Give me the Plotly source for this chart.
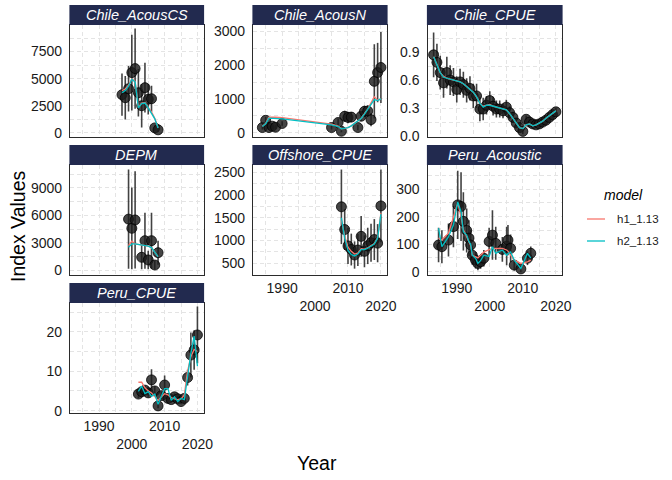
import plotly.graph_objects as go

# ---------------- data ----------------
cacs_year = [1997, 1998, 1999, 2000, 2001, 2002, 2003, 2004, 2005, 2006, 2007, 2008]
cacs_obs = [3520, 3240, 4070, 5560, 5930, 3700, 2500, 4170, 3100, 3150, 460, 280]
cacs_err = [1950, 2000, 2100, 3500, 3700, 2200, 2000, 2300, 1400, 1200, 250, 200]
cacs_h1 = [3900, 4050, 4400, 5000, 4750, 2350, 2750, 2800, 2350, 1950, 1350, 480]
cacs_h2 = [3700, 3900, 4300, 4950, 4700, 2300, 2700, 2750, 2300, 1850, 1300, 450]

can_year = [1984, 1985, 1986, 1987, 1988, 1990, 2005, 2007, 2008, 2009, 2010, 2011,
            2013, 2014, 2015, 2016, 2017, 2018, 2019, 2020]
can_obs = [150, 365, 150, 190, 160, 270, 150, 300, 40, 485, 450, 460,
           150, 485, 630, 640, 385, 1520, 1780, 1930]
can_err = [60, 100, 60, 70, 60, 70, 60, 120, 30, 160, 170, 150,
           80, 130, 170, 170, 200, 1100, 880, 1050]
can_h1 = [190, 270, 455, 460, 455, 445, 250, 190, 120, 125, 150, 200,
          330, 420, 560, 700, 880, 1060, 960, 1000]
can_h2 = [180, 260, 430, 430, 420, 410, 230, 180, 110, 120, 150, 200,
          330, 420, 550, 690, 850, 980, 950, 1000]

cc_year = [1983, 1984, 1985, 1986, 1987, 1988, 1989, 1990, 1991, 1992, 1993, 1994, 1995,
           1996, 1997, 1998, 1999, 2000, 2001, 2002, 2003, 2004, 2005, 2006, 2007, 2008,
           2009, 2010, 2011, 2012, 2013, 2014, 2015, 2016, 2017, 2018, 2019, 2020]
cc_obs = [0.87, 0.79, 0.68, 0.57, 0.68, 0.60, 0.58, 0.50, 0.58, 0.55, 0.49, 0.51, 0.43,
          0.43, 0.29, 0.29, 0.33, 0.38, 0.32, 0.29, 0.29, 0.27, 0.31, 0.25, 0.20, 0.14,
          0.09, 0.05, 0.18, 0.15, 0.13, 0.12, 0.13, 0.15, 0.17, 0.20, 0.23, 0.26]
cc_err = [0.24, 0.20, 0.18, 0.16, 0.17, 0.16, 0.15, 0.14, 0.14, 0.14, 0.13, 0.13, 0.13,
          0.13, 0.13, 0.12, 0.10, 0.10, 0.10, 0.09, 0.09, 0.08, 0.08, 0.07, 0.06, 0.05,
          0.04, 0.03, 0.04, 0.03, 0.03, 0.03, 0.03, 0.04, 0.04, 0.04, 0.04, 0.04]
cc_h1 = [0.85, 0.77, 0.68, 0.64, 0.62, 0.61, 0.60, 0.59, 0.58, 0.56, 0.53, 0.50, 0.47,
         0.42, 0.35, 0.32, 0.33, 0.34, 0.32, 0.31, 0.30, 0.29, 0.28, 0.24, 0.19, 0.13,
         0.09, 0.08, 0.12, 0.13, 0.11, 0.12, 0.14, 0.16, 0.19, 0.22, 0.25, 0.27]
cc_h2 = [0.85, 0.77, 0.68, 0.63, 0.62, 0.61, 0.60, 0.59, 0.58, 0.56, 0.53, 0.50, 0.47,
         0.42, 0.35, 0.31, 0.33, 0.33, 0.32, 0.31, 0.30, 0.29, 0.28, 0.24, 0.19, 0.13,
         0.09, 0.08, 0.12, 0.13, 0.11, 0.12, 0.14, 0.16, 0.19, 0.22, 0.25, 0.27]

dp_year = [1999, 2000, 2001, 2003, 2004, 2005, 2006, 2007, 2008]
dp_obs = [5600, 4600, 5510, 1440, 3250, 1150, 3250, 600, 1940]
dp_err = [5400, 4450, 5300, 1300, 3050, 1000, 3050, 450, 1300]
dp_h1 = [2700, 3200, 2900, 2800, 2750, 2650, 2500, 2050, 1500]
dp_h2 = [2530, 2900, 2900, 2800, 2750, 2650, 2500, 2050, 1500]

of_year = [2008, 2009, 2010, 2011, 2012, 2013, 2014, 2015, 2016, 2017, 2018, 2019, 2020]
of_obs = [1740, 1240, 880, 800, 680, 790, 1090, 760, 880, 950, 1020, 940, 1760]
of_err = [820, 450, 400, 350, 300, 350, 450, 350, 400, 420, 450, 420, 800]
of_h1 = [1450, 1100, 850, 760, 700, 720, 820, 810, 840, 880, 930, 1060, 1600]
of_h2 = [1500, 1050, 780, 690, 660, 700, 800, 800, 830, 870, 920, 1050, 1580]

pa_year = [1984.5, 1985.5, 1987.5, 1989.0, 1990.3, 1991.3, 1992.0, 1993.0, 1993.7, 1994.2,
           1994.7, 1995.7, 1996.4, 1997.2, 1998.2, 1999.8, 2000.8, 2001.8, 2003.8, 2005.1,
           2005.5, 2006.3, 2007.4, 2009.4, 2011.4, 2012.4]
pa_obs = [97, 91, 115, 164, 243, 237, 183, 150, 122, 97, 60, 42, 30, 36, 49, 110, 133,
          103, 81, 93, 115, 85, 24, 10, 49, 67]
pa_err = [63, 60, 60, 75, 124, 125, 106, 80, 65, 55, 35, 30, 25, 25, 30, 50, 90, 60, 45,
          70, 55, 50, 20, 12, 25, 25]
pa_h1 = [122, 115, 140, 200, 250, 200, 152, 127, 110, 95, 60, 55, 50, 60, 71, 80, 85, 85,
         85, 79, 75, 60, 42, 30, 36, 42]
pa_h2 = [158, 91, 127, 170, 254, 218, 145, 133, 109, 100, 60, 49, 30, 40, 60, 55, 91, 67,
         79, 60, 65, 72, 42, 12, 67, 49]

pc_year = [2002, 2003, 2004, 2005, 2006, 2007, 2008, 2009, 2010, 2011, 2012, 2013, 2014,
           2015, 2016, 2017, 2018, 2019, 2020]
pc_obs = [4.2, 4.8, 5.2, 4.5, 7.8, 5.0, 1.2, 3.8, 6.5, 3.1, 2.8, 3.5, 3.0, 2.3, 3.1, 8.4,
          14.1, 15.4, 19.2]
pc_err = [1.0, 1.0, 1.2, 1.0, 2.7, 1.2, 0.6, 1.0, 2.4, 1.0, 0.8, 0.9, 0.8, 0.7, 0.9, 2.0,
          5.7, 5.0, 7.2]
pc_h1 = [7.2, 7.2, 5.8, 5.0, 4.5, 3.5, 2.6, 3.5, 4.3, 4.0, 3.3, 3.0, 2.8, 3.0, 4.0, 10.0,
         13.7, 15.5, 15.0]
pc_h2 = [4.9, 6.2, 4.3, 4.8, 3.6, 4.2, 1.6, 3.5, 5.6, 5.6, 2.6, 3.5, 2.3, 3.1, 2.8, 8.6,
         14.5, 18.9, 11.3]

panel_names = ["Chile_AcousCS", "Chile_AcousN", "Chile_CPUE", "DEPM",
               "Offshore_CPUE", "Peru_Acoustic", "Peru_CPUE"]
model_names = ["h1_1.13", "h2_1.13"]
x_ticks = [1990, 2000, 2010, 2020]
x_tick_text = ["1990", "<br>2000", "2010", "<br>2020"]

# ---------------- layout geometry ----------------
W, H = 672, 480
FONT = "Liberation Sans, Arial, Helvetica, sans-serif"
STRIP = "#222a4f"
C_H1, C_H2 = "#F8766D", "#00BFC4"
GRID = "#e4e4e4"

col_px = [(70, 203.5), (253, 387), (427.5, 562)]
row_px = [(25, 137), (165, 275), (303, 413)]
strip_h = 20
XR = [1981.15, 2021.85]


def fx(p):
    return p / W


def fy(p):
    return 1 - p / H


panels = [
    dict(col=0, row=0, x=cacs_year, o=cacs_obs, e=cacs_err, a=cacs_h1, b=cacs_h2,
         yr=[-380, 9950], dt=2500, fmt="d", showx=False),
    dict(col=1, row=0, x=can_year, o=can_obs, e=can_err, a=can_h1, b=can_h2,
         yr=[-130, 3190], dt=1000, fmt="d", showx=False),
    dict(col=2, row=0, x=cc_year, o=cc_obs, e=cc_err, a=cc_h1, b=cc_h2,
         yr=[-0.01, 1.19], dt=0.3, fmt=".1f", showx=False),
    dict(col=0, row=1, x=dp_year, o=dp_obs, e=dp_err, a=dp_h1, b=dp_h2,
         yr=[-490, 11500], dt=3000, fmt="d", showx=False),
    dict(col=1, row=1, x=of_year, o=of_obs, e=of_err, a=of_h1, b=of_h2,
         yr=[240, 2660], dt=500, fmt="d", showx=True),
    dict(col=2, row=1, x=pa_year, o=pa_obs, e=pa_err, a=pa_h1, b=pa_h2,
         yr=[-12, 388], dt=100, fmt="d", showx=True),
    dict(col=0, row=2, x=pc_year, o=pc_obs, e=pc_err, a=pc_h1, b=pc_h2,
         yr=[-0.6, 27.3], dt=10, fmt="d", showx=True),
]

fig = go.Figure()
shapes = []
annotations = []
layout_axes = {}

for i, p in enumerate(panels):
    sfx = "" if i == 0 else str(i + 1)
    xa, ya = "x" + sfx, "y" + sfx
    x0, x1 = col_px[p["col"]]
    y0, y1 = row_px[p["row"]]

    fig.add_trace(go.Scatter(
        x=p["x"], y=p["o"], mode="markers", xaxis=xa, yaxis=ya, showlegend=False,
        marker=dict(size=10, color="rgba(28,28,28,0.82)",
                    line=dict(color="rgba(0,0,0,0.95)", width=0.8)),
        error_y=dict(type="data", array=p["e"], visible=True, width=0,
                     thickness=1.6, color="rgba(45,45,45,0.9)"),
        cliponaxis=True))
    fig.add_trace(go.Scatter(
        x=p["x"], y=p["a"], mode="lines", xaxis=xa, yaxis=ya, showlegend=False,
        name=model_names[0], line=dict(color=C_H1, width=1.3)))
    fig.add_trace(go.Scatter(
        x=p["x"], y=p["b"], mode="lines", xaxis=xa, yaxis=ya, showlegend=False,
        name=model_names[1], line=dict(color=C_H2, width=1.3)))

    axis_common = dict(showline=True, mirror=True, linecolor="#2b2b2b", linewidth=1.3,
                       ticks="", zeroline=False, showgrid=True, gridcolor=GRID,
                       gridwidth=0.8, griddash="4px,3px", automargin=False,
                       tickfont=dict(family=FONT, size=14, color="#1a1a1a"))
    layout_axes["xaxis" + sfx] = dict(
        axis_common, domain=[fx(x0), fx(x1)], range=XR, anchor=ya,
        tickmode="array", tickvals=x_ticks, ticktext=x_tick_text, tickangle=0,
        showticklabels=p["showx"],
        minor=dict(tickvals=[1985, 1995, 2005, 2015], showgrid=True, gridcolor=GRID,
                   gridwidth=0.8, griddash="4px,3px", ticks=""))
    layout_axes["yaxis" + sfx] = dict(
        axis_common, domain=[fy(y1), fy(y0)], range=p["yr"], anchor=xa,
        tickmode="linear", tick0=0, dtick=p["dt"], tickformat=p["fmt"], tickangle=0,
        ticklabelstandoff=4,
        minor=dict(dtick=p["dt"] / 2, tick0=0, showgrid=True, gridcolor=GRID,
                   gridwidth=0.8, griddash="4px,3px", ticks=""))

    # strip
    shapes.append(dict(type="rect", xref="paper", yref="paper",
                       x0=fx(x0 - 0.6), x1=fx(x1 + 0.6), y0=fy(y0), y1=fy(y0 - strip_h),
                       fillcolor=STRIP, line=dict(width=0), layer="above"))
    annotations.append(dict(xref="paper", yref="paper", x=fx((x0 + x1) / 2),
                            y=fy(y0 - strip_h / 2), text="<i>" + panel_names[i] + "</i>",
                            showarrow=False, xanchor="center", yanchor="middle",
                            font=dict(family=FONT, size=14.5, color="white")))

# axis titles
annotations.append(dict(xref="paper", yref="paper", x=fx(317), y=fy(463), text="Year",
                        showarrow=False, xanchor="center", yanchor="middle",
                        font=dict(family=FONT, size=19.5, color="black")))
annotations.append(dict(xref="paper", yref="paper", x=fx(18), y=fy(226),
                        text="Index Values", textangle=-90, showarrow=False,
                        xanchor="center", yanchor="middle",
                        font=dict(family=FONT, size=19.5, color="black")))

# legend (drawn manually, ggplot style)
annotations.append(dict(xref="paper", yref="paper", x=fx(602), y=fy(195),
                        text="<i>model</i>", showarrow=False, xanchor="left",
                        yanchor="middle", font=dict(family=FONT, size=14, color="black")))
for k, (lab, col, ypx) in enumerate(zip(model_names, [C_H1, C_H2], [219, 241])):
    shapes.append(dict(type="line", xref="paper", yref="paper", x0=fx(587), x1=fx(605),
                       y0=fy(ypx), y1=fy(ypx), line=dict(color=col, width=1.3)))
    annotations.append(dict(xref="paper", yref="paper", x=fx(615), y=fy(ypx), text=lab,
                            showarrow=False, xanchor="left", yanchor="middle",
                            font=dict(family=FONT, size=11.5, color="#1a1a1a")))

fig.update_layout(
    width=W, height=H, margin=dict(l=0, r=0, t=0, b=0, autoexpand=False),
    paper_bgcolor="white", plot_bgcolor="white",
    showlegend=False, shapes=shapes, annotations=annotations,
    font=dict(family=FONT), **layout_axes)

fig.write_html("out.html",
               config={"displayModeBar": False},
               post_script="document.body.style.margin='0';"
                           "document.body.style.padding='0';"
                           "document.body.style.overflow='hidden';")
